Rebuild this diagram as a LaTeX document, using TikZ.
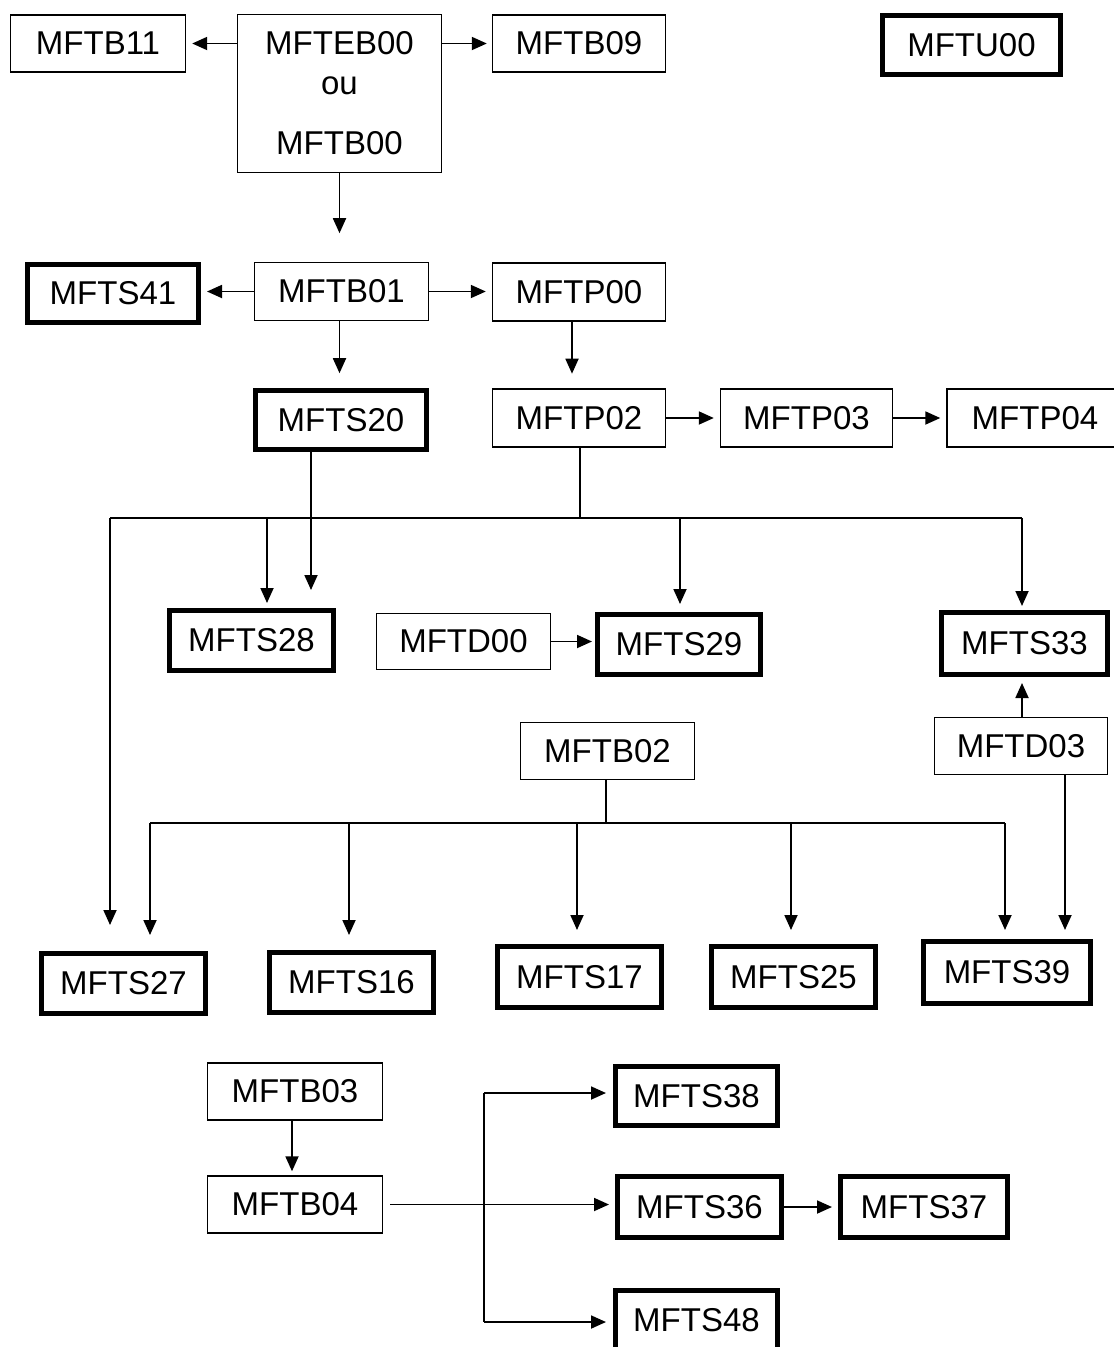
\documentclass[tikz,border=0pt]{standalone}
\usepackage{fontspec}
\setmainfont{Liberation Sans}
\usetikzlibrary{arrows.meta}
\tikzset{
  base/.style={draw=black, inner sep=0pt, font=\fontsize{33}{40}\selectfont, text=black},
  thinbox/.style={base, line width=1.4pt},
  thickbox/.style={base, line width=5pt},
  conn/.style={draw=black, line width=1.8pt},
  arr/.style={conn, -{Triangle[length=15pt,width=13pt]}},
}
\begin{document}
\begin{tikzpicture}[x=1pt,y=-1pt]
\useasboundingbox (0,0) rectangle (1114,1347);
% top row
\node[thinbox, minimum width=175pt, minimum height=57pt] (b11) at (98,43.5) {MFTB11};
\node[thinbox, minimum width=204pt, minimum height=158pt, align=center] (eb00) at (339.5,93.5) {MFTEB00\\ou\\[20pt]MFTB00};
\node[thinbox, minimum width=173pt, minimum height=57pt] (b09) at (579,43.5) {MFTB09};
\node[thickbox, minimum width=178pt, minimum height=59pt] (u00) at (971.5,45) {MFTU00};
% second row
\node[thickbox, minimum width=171pt, minimum height=58pt] (s41) at (113,293.5) {MFTS41};
\node[thinbox, minimum width=174pt, minimum height=58pt] (b01) at (341.5,291.5) {MFTB01};
\node[thinbox, minimum width=173pt, minimum height=58pt] (p00) at (579,292) {MFTP00};
% third row
\node[thickbox, minimum width=171pt, minimum height=59pt] (s20) at (341,420) {MFTS20};
\node[thinbox, minimum width=173pt, minimum height=58pt] (p02) at (579,418) {MFTP02};
\node[thinbox, minimum width=172pt, minimum height=58pt] (p03) at (806.5,418) {MFTP03};
\node[thinbox, minimum width=176pt, minimum height=58pt] (p04) at (1035,418) {MFTP04};
% fourth row
\node[thickbox, minimum width=164pt, minimum height=60pt] (s28) at (251.5,640.5) {MFTS28};
\node[thinbox, minimum width=174pt, minimum height=56pt] (d00) at (463.5,641.5) {MFTD00};
\node[thickbox, minimum width=163pt, minimum height=60pt] (s29) at (679,644.5) {MFTS29};
\node[thickbox, minimum width=166pt, minimum height=62pt] (s33) at (1024.5,643.5) {MFTS33};
% fifth row
\node[thinbox, minimum width=173pt, minimum height=57pt] (d03) at (1021,746) {MFTD03};
\node[thinbox, minimum width=174pt, minimum height=57pt] (b02) at (607.5,751) {MFTB02};
% sixth row
\node[thickbox, minimum width=164pt, minimum height=60pt] (s27) at (123.5,983.5) {MFTS27};
\node[thickbox, minimum width=164pt, minimum height=60pt] (s16) at (351.5,982.5) {MFTS16};
\node[thickbox, minimum width=164pt, minimum height=61pt] (s17) at (579.5,977) {MFTS17};
\node[thickbox, minimum width=164pt, minimum height=61pt] (s25) at (793.5,977) {MFTS25};
\node[thickbox, minimum width=167pt, minimum height=62pt] (s39) at (1007,972.5) {MFTS39};
% bottom group
\node[thinbox, minimum width=175pt, minimum height=57pt] (b03) at (295,1091.5) {MFTB03};
\node[thinbox, minimum width=175pt, minimum height=57pt] (b04) at (295,1204.5) {MFTB04};
\node[thickbox, minimum width=162pt, minimum height=59pt] (s38) at (696.5,1096) {MFTS38};
\node[thickbox, minimum width=164pt, minimum height=61pt] (s36) at (699.5,1207) {MFTS36};
\node[thickbox, minimum width=167pt, minimum height=61pt] (s37) at (924,1207) {MFTS37};
\node[thickbox, minimum width=162pt, minimum height=60pt] (s48) at (696.5,1320) {MFTS48};

% connectors top
\draw[arr] (eb00.west |- b11) -- ([xshift=6pt]b11.east);
\draw[arr] (eb00.east |- b09) -- ([xshift=-5pt]b09.west);
\draw[arr] (eb00.south) -- ++(0,60);
\draw[arr] (b01.west) -- ([xshift=6pt]s41.east |- b01);
\draw[arr] (b01.east) -- ([xshift=-6pt]p00.west |- b01);
\draw[arr] ([xshift=-2pt]b01.south) -- ++(0,52);
\draw[arr] ([xshift=-7pt]p00.south) -- ++(0,52);
\draw[arr] (p02.east) -- ([xshift=-6pt]p03.west);
\draw[arr] (p03.east) -- ([xshift=-6pt]p04.west);

% bus from MFTP02
\coordinate (busA) at (580,518);
\coordinate (busAL) at (110,518);
\coordinate (busAR) at (1022,518);
\draw[conn] ([xshift=1pt]p02.south) -- (busA);
\draw[conn] (busAL) -- (busAR);
\draw[arr] (busAL) -- (110,925);
\draw[arr] (267,518) -- (267,603);
\draw[arr] (680,518) -- (680,604);
\draw[arr] (busAR) -- (1022,606);
\draw[arr] ([xshift=-30pt]s20.south) -- (311,590);
\draw[arr] (d00.east) -- ([xshift=-3pt]s29.west |- d00);
\draw[arr] ([xshift=1pt]d03.north) -- (1022,683);
\draw[arr] (1065,775) -- (1065,930);

% bus from MFTB02
\coordinate (busB) at (606,823);
\draw[conn] ([xshift=-1.5pt]b02.south) -- (busB);
\draw[conn] (150,823) -- (1005,823);
\draw[arr] (150,823) -- (150,935);
\draw[arr] (349,823) -- (349,935);
\draw[arr] (577,823) -- (577,930);
\draw[arr] (791,823) -- (791,930);
\draw[arr] (1005,823) -- (1005,930);

% bottom group connectors
\draw[arr] ([xshift=-3pt]b03.south) -- ([xshift=-3pt,yshift=4pt]b04.north);
\draw[arr] ([xshift=7pt]b04.east) -- ([xshift=-6pt]s36.west |- b04);
\draw[conn] (484,1093) -- (484,1322);
\draw[arr] (484,1093) -- ([xshift=-7pt]s38.west |- 484,1093);
\draw[arr] (484,1322) -- ([xshift=-7pt]s48.west |- 484,1322);
\draw[arr] (s36.east) -- ([xshift=-6pt]s37.west);
\end{tikzpicture}
\end{document}
